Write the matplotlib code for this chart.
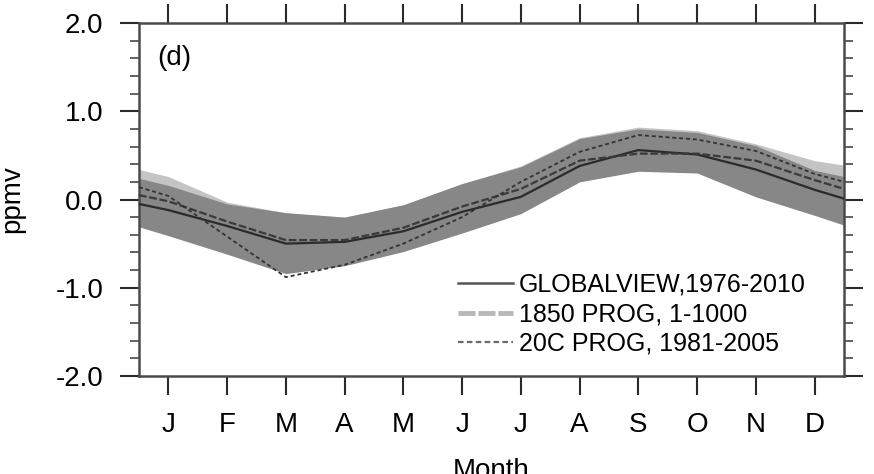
import matplotlib
matplotlib.use("Agg")
import matplotlib.pyplot as plt
from matplotlib.lines import Line2D
from matplotlib.ticker import MultipleLocator

plt.rcParams['font.family'] = ['Liberation Sans', 'DejaVu Sans']
plt.rcParams['axes.unicode_minus'] = False

# Month positions (with the cyclic half-month ends of the axis)
month_pos = [0.5, 1, 2, 3, 4, 5, 6, 7, 8, 9, 10, 11, 12, 12.5]
month_labels = ['J', 'F', 'M', 'A', 'M', 'J', 'J', 'A', 'S', 'O', 'N', 'D']

# Model spread envelopes (ppmv)
spread_light_top = [0.34, 0.26, -0.03, -0.15, -0.20, -0.06, 0.18, 0.38, 0.70, 0.82, 0.78, 0.63, 0.44, 0.39]
spread_light_bot = [-0.28, -0.38, -0.58, -0.80, -0.72, -0.56, -0.35, -0.13, 0.22, 0.34, 0.32, 0.06, -0.15, -0.26]
spread_dark_top = [0.24, 0.16, -0.05, -0.15, -0.20, -0.06, 0.18, 0.37, 0.69, 0.80, 0.76, 0.61, 0.33, 0.26]
spread_dark_bot = [-0.31, -0.41, -0.62, -0.84, -0.75, -0.59, -0.38, -0.16, 0.20, 0.32, 0.30, 0.03, -0.18, -0.29]

# Seasonal cycles (ppmv)
globalview = [-0.05, -0.12, -0.30, -0.50, -0.48, -0.36, -0.14, 0.03, 0.38, 0.56, 0.51, 0.34, 0.11, 0.01]
prog_1850 = [0.05, -0.02, -0.25, -0.46, -0.46, -0.32, -0.08, 0.12, 0.44, 0.52, 0.52, 0.44, 0.22, 0.12]
prog_20c = [0.14, 0.04, -0.42, -0.88, -0.74, -0.50, -0.20, 0.20, 0.54, 0.73, 0.68, 0.55, 0.29, 0.20]

legend_labels = ['GLOBALVIEW,1976-2010', '1850 PROG, 1-1000', '20C PROG, 1981-2005']

fig = plt.figure(figsize=(8.74, 4.74), dpi=100)
ax = fig.add_axes([139 / 874, 1 - 376 / 474, (844 - 139) / 874, (376 - 23) / 474])

ax.fill_between(month_pos, spread_light_bot, spread_light_top, color='#c4c4c4', lw=0, zorder=1)
ax.fill_between(month_pos, spread_dark_bot, spread_dark_top, color='#878787', lw=0, zorder=2)

ax.plot(month_pos, globalview, color='#2b2b2b', lw=1.6, ls='-', zorder=4)
ax.plot(month_pos, prog_1850, color='#3a3a3a', lw=1.6, ls=(0, (3.5, 1.2)), zorder=4)
ax.plot(month_pos, prog_20c, color='#333333', lw=1.3, ls=(0, (2.2, 1.6)), zorder=4)

ax.set_xlim(0.5, 12.5)
ax.set_ylim(-2.0, 2.0)
ax.set_xticks(range(1, 13))
ax.set_xticklabels(month_labels)
ax.set_yticks([-2, -1, 0, 1, 2])
ax.set_yticklabels(['-2.0', '-1.0', '0.0', '1.0', '2.0'])
ax.yaxis.set_minor_locator(MultipleLocator(0.2))

ax.tick_params(axis='both', which='major', direction='out', length=13.7, width=1.5,
               color='#2a2a2a', labelsize=20, pad=12)
ax.tick_params(axis='y', which='minor', direction='out', length=6.5, width=1.3,
               color='#555555')
ax.tick_params(top=True, right=True, labeltop=False, labelright=False)
ax.tick_params(axis='y', which='minor', right=True, left=True)

for side in ['left', 'right', 'top', 'bottom']:
    ax.spines[side].set_color('#4a4a4a')
    ax.spines[side].set_linewidth(1.8)

ax.set_xlabel('Month', fontsize=20)
ax.xaxis.set_label_coords(0.5, -0.232)
ax.set_ylabel('ppmv', fontsize=20)
ax.yaxis.set_label_coords(-0.162, 0.5)

ax.text(0.026, 0.90, '(d)', transform=ax.transAxes, fontsize=20, va='center', ha='left')

handles = [
    Line2D([], [], color='#555555', lw=1.8, ls='-'),
    Line2D([], [], color='#b8b8b8', lw=3.5, ls=(0, (3.5, 0.6))),
    Line2D([], [], color='#6a6a6a', lw=1.6, ls=(0, (2.5, 1.5))),
]
leg = ax.legend(handles, legend_labels, loc='upper left', bbox_to_anchor=(0.452, 0.292),
                frameon=False, fontsize=18, handlelength=2.2, handletextpad=0.25,
                labelspacing=0.22, borderaxespad=0, borderpad=0)

fig.savefig('out.png', dpi=100)
